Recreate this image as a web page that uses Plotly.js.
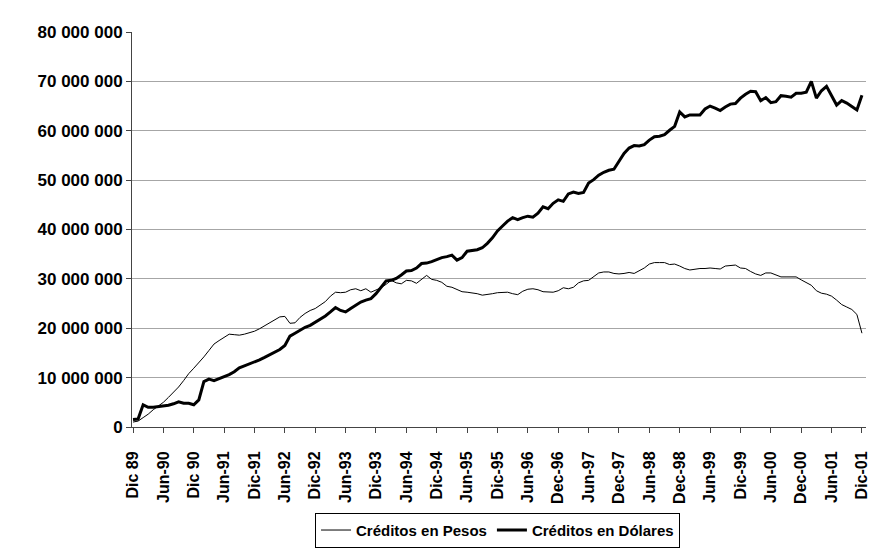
<!DOCTYPE html>
<html>
<head>
<meta charset="utf-8">
<script src="https://cdn.plot.ly/plotly-3.0.1.min.js"></script>
<style>
html,body{margin:0;padding:0;background:#fff;}
#chart{width:888px;height:549px;}
</style>
</head>
<body>
<div id="chart"></div>
<script>
// Monthly values, Dic 89 .. Dic 01 (millions)
const pesos = [
1.0,1.2,1.9,2.6,3.5,4.2,5.0,6.0,7.0,8.1,9.4,10.8,11.9,13.0,14.2,15.5,16.8,17.5,18.2,18.8,
18.7,18.6,18.8,19.1,19.4,19.9,20.5,21.1,21.8,22.3,22.4,21.0,21.1,22.2,23.0,23.6,24.0,24.7,25.4,26.5,
27.3,27.2,27.3,27.8,28.0,27.6,28.0,27.3,27.8,28.2,28.9,29.7,29.2,29.0,29.7,29.6,29.1,29.9,30.7,29.9,
29.7,29.3,28.5,28.3,27.8,27.4,27.3,27.2,27.0,26.7,26.8,27.0,27.2,27.2,27.3,27.0,26.8,27.5,27.9,28.0,
27.8,27.4,27.3,27.3,27.6,28.2,28.0,28.3,29.2,29.6,29.7,30.5,31.2,31.4,31.4,31.1,31.0,31.1,31.3,31.1,
31.7,32.2,33.0,33.3,33.3,33.3,32.9,33.0,32.6,32.1,31.8,32.0,32.1,32.1,32.2,32.1,32.0,32.6,32.7,32.8,
32.2,32.1,31.5,31.0,30.7,31.2,31.2,30.8,30.4,30.4,30.4,30.4,29.8,29.2,28.7,27.6,27.1,26.9,26.5,25.7,
24.8,24.3,23.8,22.8,19.0
];
const dolares = [
1.5,1.6,4.5,4.0,4.0,4.1,4.3,4.4,4.7,5.1,4.8,4.8,4.5,5.5,9.2,9.7,9.4,9.8,10.3,10.6,
11.2,12.0,12.4,12.8,13.1,13.6,14.1,14.6,15.1,15.7,16.5,18.4,19.0,19.6,20.2,20.6,21.2,21.9,22.5,23.3,
24.2,23.6,23.3,24.0,24.7,25.3,25.7,26.0,27.0,28.3,29.6,29.7,30.1,30.8,31.6,31.7,32.2,33.1,33.2,33.5,
33.9,34.3,34.5,34.8,33.8,34.3,35.6,35.8,35.9,36.3,37.2,38.3,39.7,40.7,41.7,42.4,42.0,42.4,42.7,42.5,
43.3,44.6,44.2,45.3,46.0,45.7,47.2,47.6,47.3,47.5,49.4,50.1,51.0,51.6,52.0,52.2,53.9,55.4,56.5,57.0,
56.9,57.2,58.1,58.8,58.9,59.2,60.1,60.9,63.8,62.8,63.2,63.2,63.2,64.4,65.0,64.6,64.1,64.8,65.4,65.5,
66.6,67.4,68.0,67.9,66.1,66.7,65.7,65.9,67.1,67.0,66.8,67.6,67.6,67.8,70.0,66.6,68.1,69.0,67.2,65.2,
66.1,65.6,64.9,64.2,67.2
];
const xTickLabels = ["Dic 89","Jun-90","Dic 90","Jun-91","Dic-91","Jun-92","Dic-92","Jun-93","Dic-93",
"Jun-94","Dic-94","Jun-95","Dic-95","Jun-96","Dec-96","Jun-97","Dec-97","Jun-98","Dec-98","Jun-99",
"Dic-99","Jun-00","Dec-00","Jun-01","Dic-01"];
const yTickValues = [0,10,20,30,40,50,60,70,80];
const yTickLabels = ["0","10 000 000","20 000 000","30 000 000","40 000 000","50 000 000","60 000 000","70 000 000","80 000 000"];
const seriesNames = ["Créditos en Pesos","Créditos en Dólares"];

const months = pesos.map((_, i) => i);
const FONT = "Liberation Sans, Arial, sans-serif";

const traces = [
  {x: months, y: pesos, name: seriesNames[0], type: "scatter", mode: "lines",
   line: {color: "#000", width: 1}},
  {x: months, y: dolares, name: seriesNames[1], type: "scatter", mode: "lines",
   line: {color: "#000", width: 3}}
];

const layout = {
  width: 888, height: 549,
  margin: {l: 132, r: 22, t: 32, b: 122, autoexpand: false},
  paper_bgcolor: "#fff", plot_bgcolor: "#fff",
  font: {family: FONT, color: "#000"},
  showlegend: true,
  legend: {
    orientation: "h", x: 0.498, xanchor: "center",
    yref: "container", y: 0.066, yanchor: "top",
    bordercolor: "#000", borderwidth: 1, bgcolor: "#fff",
    font: {family: FONT, size: 15, color: "#000", weight: "bold"},
    traceorder: "normal", itemwidth: 30, tracegroupgap: 0
  },
  xaxis: {
    range: [-0.2, 144.8],
    automargin: false,
    tickmode: "array",
    tickvals: xTickLabels.map((_, i) => i * 6),
    ticktext: xTickLabels,
    tickangle: -90,
    ticklabelstandoff: 12,
    ticks: "outside", ticklen: 5, tickcolor: "#444", tickwidth: 1,
    showline: true, linecolor: "#444", linewidth: 1,
    showgrid: false, zeroline: false,
    tickfont: {family: FONT, size: 16, color: "#000", weight: "bold"},
    fixedrange: true
  },
  yaxis: {
    range: [0, 80],
    automargin: false,
    tickmode: "array",
    tickvals: yTickValues,
    ticktext: yTickLabels,
    ticks: "outside", ticklen: 5, tickcolor: "#444", tickwidth: 1,
    showline: true, linecolor: "#444", linewidth: 1,
    showgrid: true, gridcolor: "#a6a6a6", gridwidth: 1,
    zeroline: false,
    tickfont: {family: FONT, size: 17, color: "#000", weight: "bold"},
    fixedrange: true
  }
};

Plotly.newPlot("chart", traces, layout, {displayModeBar: false, staticPlot: true});
</script>
</body>
</html>
